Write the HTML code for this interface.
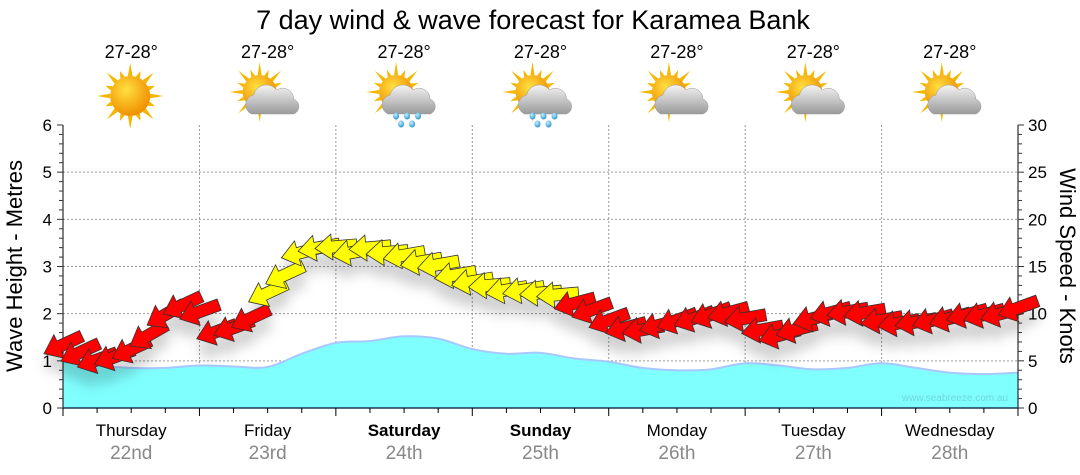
<!DOCTYPE html>
<html><head><meta charset="utf-8"><style>
html,body{margin:0;padding:0;background:#fff;width:1080px;height:475px;overflow:hidden}
text{font-family:"Liberation Sans","DejaVu Sans",sans-serif}
</style></head><body>
<svg id="chart" width="1080" height="475" viewBox="0 0 1080 475" xmlns="http://www.w3.org/2000/svg">
<defs>
<filter id="shadow" x="-50%" y="-50%" width="200%" height="300%"><feDropShadow dx="0" dy="14" stdDeviation="6" flood-color="#000" flood-opacity="0.18"/></filter>
<radialGradient id="sunG" cx="40%" cy="35%" r="65%"><stop offset="0" stop-color="#ffe040"/><stop offset="1" stop-color="#f09000"/></radialGradient>
<linearGradient id="cloudG" x1="0" y1="0" x2="0" y2="1"><stop offset="0" stop-color="#f4f4f4"/><stop offset="1" stop-color="#9a9a9a"/></linearGradient>
<radialGradient id="dropG" cx="40%" cy="35%" r="70%"><stop offset="0" stop-color="#c8f0ff"/><stop offset="1" stop-color="#1e90d0"/></radialGradient>
</defs>
<text x="533" y="29" text-anchor="middle" font-size="27" fill="#000">7 day wind &amp; wave forecast for Karamea Bank</text>
<g id="grid"></g>
<g id="waves"></g>
<g id="axes"></g>
<g id="wind" filter="url(#shadow)"></g>
<g id="days"></g>
<g id="icons"></g>
<text transform="translate(22,266) rotate(-90)" text-anchor="middle" font-size="22" fill="#000">Wave Height - Metres</text>
<text transform="translate(1060,266) rotate(90)" text-anchor="middle" font-size="22" fill="#000">Wind Speed - Knots</text>
<text x="1008" y="401" text-anchor="end" font-size="10" fill="#6fd6e0">www.seabreeze.com.au</text>
</svg>
<script>
const dayNames = ["Thursday","Friday","Saturday","Sunday","Monday","Tuesday","Wednesday"];
const dayDates = ["22nd","23rd","24th","25th","26th","27th","28th"];
const boldDays = [false,false,true,true,false,false,false];
const temps = ["27-28°","27-28°","27-28°","27-28°","27-28°","27-28°","27-28°"];
const icons = ["sun","cloud","rain","rain","cloud","cloud","cloud"];
const waveHeights = [1.0,0.9,0.85,0.85,0.9,0.88,0.87,1.15,1.38,1.42,1.52,1.47,1.25,1.15,1.17,1.05,0.98,0.85,0.8,0.82,0.95,0.9,0.82,0.85,0.95,0.85,0.75,0.72,0.75];
const windSpeeds = [6.7,5.9,5.1,5.4,6.2,7.7,9.9,10.9,10.2,8.1,8.5,9.5,12.2,14.1,16.5,17,17.1,16.5,17,16.5,16.2,15.5,15.2,14.1,13.4,13,12.5,12.5,12.2,12.0,11.1,10.4,9.3,8.5,8.3,8.8,9.3,9.5,9.9,10.1,9.5,8.3,7.7,8.3,9.5,10.1,10.2,10.1,9.3,9.0,9.1,9.3,9.5,9.9,9.9,10,10.6];
const windAngles = [-25,-25,-20,-20,-25,-30,-30,-25,-20,-20,-20,-25,-25,-25,-15,-10,-5,-10,-5,-5,-10,-10,-10,-10,-10,-5,-10,-10,-5,-5,-15,-20,-20,-15,-10,-15,-20,-20,-20,-15,-10,-10,-15,-15,-15,-15,-10,-10,-10,-10,-10,-15,-15,-15,-15,-15,-20];
const leftTicks = [0,1,2,3,4,5,6];
const rightTicks = [0,5,10,15,20,25,30];

const NS="http://www.w3.org/2000/svg";
const X0=63,X1=1018,Y0=408,Y1=125;
const xDay=d=>X0+(X1-X0)*d/7;
const yM=m=>Y0-(Y0-Y1)*m/6;
const yK=k=>Y0-(Y0-Y1)*k/30;
function el(tag,attrs,parent){const e=document.createElementNS(NS,tag);for(const k in attrs)e.setAttribute(k,attrs[k]);parent.appendChild(e);return e;}
const grid=document.getElementById('grid'),axes=document.getElementById('axes');

for(let i=1;i<=5;i++){const g=el('line',{x1:X0,x2:X1,y1:yM(i),y2:yM(i),stroke:'#999','stroke-dasharray':'2,2'},grid);

}
for(let d=1;d<7;d++){const g=el('line',{x1:xDay(d),x2:xDay(d),y1:Y1,y2:Y0,stroke:'#999','stroke-dasharray':'2,2'},grid);

}

(function(){
  const n=waveHeights.length;const pts=waveHeights.map((h,i)=>[X0+(X1-X0)*i/(n-1),yM(h)]);
  let d=`M${pts[0][0]},${pts[0][1]}`;
  for(let i=0;i<n-1;i++){const p0=pts[Math.max(0,i-1)],p1=pts[i],p2=pts[i+1],p3=pts[Math.min(n-1,i+2)];
    d+=` C${p1[0]+(p2[0]-p0[0])/6},${p1[1]+(p2[1]-p0[1])/6} ${p2[0]-(p3[0]-p1[0])/6},${p2[1]-(p3[1]-p1[1])/6} ${p2[0]},${p2[1]}`;}
  const w=document.getElementById('waves');
  const a=el('path',{d:d+` L${X1},${Y0} L${X0},${Y0} Z`,fill:'#80ffff'},w);
  
  
  const l=el('path',{d:d,fill:'none',stroke:'#a8c8ff','stroke-width':2},w);
  
  
})();

el('line',{x1:X0,x2:X0,y1:Y1,y2:Y0,stroke:'#000'},axes);
el('line',{x1:X1,x2:X1,y1:Y1,y2:Y0,stroke:'#000'},axes);
el('line',{x1:X0,x2:X1,y1:Y0,y2:Y0,stroke:'#1a3a5a','stroke-width':1.5},axes);
for(let v=0;v<=30;v++){const m=v/5;const y=yM(m);const major=v%5==0;
  el('line',{x1:X0-(major?6:4),x2:X0,y1:y,y2:y,stroke:'#333'},axes);}
for(let v=0;v<=30;v++){const y=yK(v);const major=v%5==0;
  el('line',{x1:X1,x2:X1+(major?6:4),y1:y,y2:y,stroke:'#333'},axes);}
leftTicks.forEach(v=>{const t=el('text',{x:X0-11,y:yM(v)+6,'text-anchor':'end','font-size':17},axes);t.textContent=v;

});
rightTicks.forEach(v=>{const t=el('text',{x:X1+10,y:yK(v)+6,'font-size':17},axes);t.textContent=v;

});
for(let q=0;q<=28;q++){const x=X0+(X1-X0)*q/28;el('line',{x1:x,x2:x,y1:Y0,y2:Y0+(q%4==0?8:5),stroke:'#000'},axes);}

const days=document.getElementById('days');
dayNames.forEach((n,i)=>{const cx=xDay(i+0.5);
  const t=el('text',{x:cx,y:436,'text-anchor':'middle','font-size':17,'font-weight':boldDays[i]?'bold':'normal'},days);t.textContent=n;
  
  
  const d=el('text',{x:cx,y:459,'text-anchor':'middle','font-size':19,fill:'#888'},days);d.textContent=dayDates[i];
  
  });

const ic=document.getElementById('icons');
function sun(g,cx,cy,r){
  for(let k=0;k<16;k++){const a=k*Math.PI/8;const L=k%2?r+7:r+13;
    el('polygon',{points:`${cx+Math.cos(a-0.12)*r},${cy+Math.sin(a-0.12)*r} ${cx+Math.cos(a)*L},${cy+Math.sin(a)*L} ${cx+Math.cos(a+0.12)*r},${cy+Math.sin(a+0.12)*r}`,fill:'#f5b800'},g);}
  el('circle',{cx:cx,cy:cy,r:r,fill:'url(#sunG)'},g);
}
function cloud(g,cx,cy){
  el('path',{d:`M${cx-18},${cy+17} a10,10 0 0 1 2,-19 a13,13 0 0 1 23,-5 a11,11 0 0 1 17,9 a8,8 0 0 1 0,15 Z`,fill:'url(#cloudG)',stroke:'#999','stroke-width':0.5},g);
}
temps.forEach((t,i)=>{const cx=xDay(i+0.5);
  const tx=el('text',{x:cx,y:58,'text-anchor':'middle','font-size':18},ic);tx.textContent=t;
  
  
  const g=el('g',{},ic);
  
  
  if(icons[i]=='sun'){sun(g,cx-1,96,20);}
  else{sun(g,cx-8,92,17);cloud(g,cx+2,97);
    if(icons[i]=='rain'){[[-8,116],[3,116],[14,116],[-3,124],[8,124]].forEach(p=>el('ellipse',{cx:cx+p[0],cy:p[1],rx:3,ry:3.5,fill:'url(#dropG)'},g));}}
});

const wind=document.getElementById('wind');
windSpeeds.forEach((k,i)=>{const x=X0+(X1-X0)*i/(windSpeeds.length-1);const y=yK(k);
  const col=k>=11.8?'#ffff00':'#ff0000';
  const p=el('polygon',{points:'-21,0 -4,-13 -4,-6 21,-6 21,6 -4,6 -4,13',fill:col,stroke:'#333','stroke-width':0.8,transform:`translate(${x},${y}) rotate(${windAngles[i]})`},wind);
  
  
});
</script>
</body></html>
